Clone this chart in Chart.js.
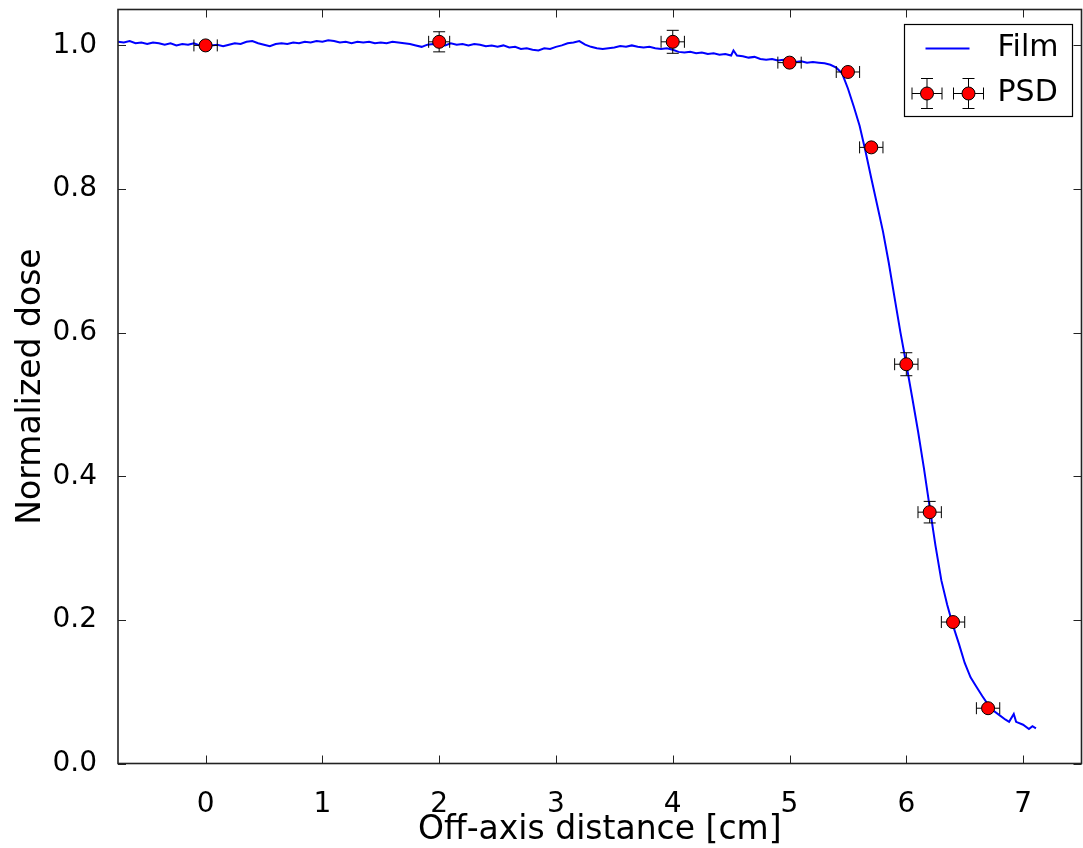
<!DOCTYPE html>
<html>
<head>
<meta charset="utf-8">
<script src="https://cdn.jsdelivr.net/npm/chart.js@4/dist/chart.umd.min.js"></script>
<style>
html,body{margin:0;padding:0;background:#fff;overflow:hidden;}
#wrap{width:1083px;height:848px;position:relative;overflow:hidden;}
#c{display:block;}
</style>
</head>
<body>
<div id="wrap"><canvas id="c" width="1089" height="848"></canvas></div>
<script>
// ---- data ----
const xTicks = [0, 1, 2, 3, 4, 5, 6, 7];
const yTicks = [0.0, 0.2, 0.4, 0.6, 0.8, 1.0];

const psdX    = [0, 2, 4, 5, 5.5, 5.7, 6.0, 6.2, 6.4, 6.7];
const psdY    = [1.000, 1.005, 1.005, 0.976, 0.963, 0.858, 0.556, 0.350, 0.197, 0.077];
const psdXErr = [0.1, 0.09, 0.1, 0.1, 0.1, 0.1, 0.1, 0.1, 0.1, 0.1];
const psdYErr = [0.003, 0.014, 0.016, 0.003, 0.003, 0.003, 0.016, 0.015, 0.003, 0.003];

const filmX = [
 -0.75,-0.70,-0.65,-0.60,-0.55,-0.50,-0.45,-0.40,-0.35,-0.30,-0.25,-0.20,-0.15,-0.10,-0.05,
 0.00,0.05,0.10,0.15,0.20,0.25,0.30,0.35,0.40,0.45,0.50,0.55,0.60,0.65,0.70,0.75,0.80,0.85,0.90,0.95,
 1.00,1.05,1.10,1.15,1.20,1.25,1.30,1.35,1.40,1.45,1.50,1.55,1.60,1.65,1.70,1.75,1.80,1.85,1.90,1.95,
 2.00,2.05,2.10,2.15,2.20,2.25,2.30,2.35,2.40,2.45,2.50,2.55,2.60,2.65,2.70,2.75,2.80,2.85,2.90,2.95,
 3.00,3.05,3.10,3.15,3.20,3.25,3.30,3.35,3.40,3.45,3.50,3.55,3.60,3.65,3.70,3.75,3.80,3.85,3.90,3.95,
 4.00,4.05,4.10,4.15,4.20,4.25,4.30,4.35,4.40,4.45,4.50,4.52,4.55,4.60,4.65,4.70,4.75,4.80,4.85,4.90,4.95,
 5.00,5.05,5.10,5.15,5.20,5.25,5.30,5.35,5.40,5.45,5.50,5.55,5.60,5.65,5.70,5.75,5.80,5.85,5.90,5.95,
 6.00,6.05,6.10,6.15,6.20,6.25,6.30,6.35,6.40,6.45,6.50,6.55,6.60,6.65,6.70,6.75,6.80,6.85,6.88,6.92,6.94,
 7.00,7.05,7.08,7.11
];
const filmY = [
 1.005,1.004,1.006,1.003,1.004,1.002,1.004,1.003,1.001,1.003,1.000,1.002,1.001,1.003,1.000,
 1.002,1.000,1.001,0.999,1.001,1.003,1.002,1.005,1.006,1.003,1.001,0.999,1.002,1.003,1.002,1.004,1.003,1.005,1.004,1.006,
 1.005,1.007,1.006,1.004,1.005,1.003,1.005,1.004,1.005,1.003,1.004,1.003,1.005,1.004,1.003,1.002,1.000,0.998,1.001,1.002,
 1.001,1.000,1.003,1.001,1.002,1.000,1.002,1.001,0.999,1.000,0.998,1.000,0.997,0.998,0.995,0.996,0.994,0.993,0.996,0.995,
 0.998,1.000,1.003,1.004,1.006,1.001,0.998,0.996,0.995,0.996,0.997,0.999,0.998,1.000,0.998,0.997,0.998,0.996,0.995,0.996,
 0.994,0.991,0.990,0.991,0.989,0.990,0.988,0.989,0.987,0.988,0.986,0.993,0.986,0.985,0.983,0.984,0.981,0.980,0.981,0.979,0.980,
 0.978,0.977,0.978,0.976,0.977,0.976,0.975,0.973,0.969,0.961,0.940,0.915,0.888,0.853,0.815,0.778,0.741,0.697,0.648,0.600,
 0.556,0.510,0.463,0.412,0.357,0.303,0.255,0.221,0.192,0.167,0.140,0.120,0.107,0.094,0.082,0.073,0.067,0.061,0.058,0.069,0.058,
 0.054,0.048,0.052,0.049
];

const FONT = "'DejaVu Sans', 'Liberation Sans', sans-serif";

const filmData = filmX.map((x, i) => ({x: x, y: filmY[i]}));
const psdData = psdX.map((x, i) => ({x: x, y: psdY[i]}));

function drawErrBar(ctx, x1, y1, x2, y2, vertical, cap) {
  ctx.beginPath();
  ctx.moveTo(x1, y1); ctx.lineTo(x2, y2);
  if (vertical) {
    ctx.moveTo(x1 - cap, y1); ctx.lineTo(x1 + cap, y1);
    ctx.moveTo(x2 - cap, y2); ctx.lineTo(x2 + cap, y2);
  } else {
    ctx.moveTo(x1, y1 - cap); ctx.lineTo(x1, y1 + cap);
    ctx.moveTo(x2, y2 - cap); ctx.lineTo(x2, y2 + cap);
  }
  ctx.stroke();
}

const errPlugin = {
  id: 'errbars',
  beforeDatasetDraw(chart, args) {
    if (args.index !== 0) return;
    const ctx = chart.ctx, xs = chart.scales.x, ys = chart.scales.y;
    ctx.save();
    ctx.strokeStyle = '#000';
    ctx.lineWidth = 1;
    for (let i = 0; i < psdX.length; i++) {
      const px = xs.getPixelForValue(psdX[i]);
      const py = ys.getPixelForValue(psdY[i]);
      const xl = xs.getPixelForValue(psdX[i] - psdXErr[i]);
      const xr = xs.getPixelForValue(psdX[i] + psdXErr[i]);
      const yt = ys.getPixelForValue(psdY[i] + psdYErr[i]);
      const yb = ys.getPixelForValue(psdY[i] - psdYErr[i]);
      drawErrBar(ctx, xl, py, xr, py, false, 6);
      drawErrBar(ctx, px, yt, px, yb, true, 6);
    }
    ctx.restore();
  }
};

const framePlugin = {
  id: 'frame',
  afterDraw(chart) {
    const ctx = chart.ctx, a = chart.chartArea, xs = chart.scales.x, ys = chart.scales.y;
    ctx.save();
    ctx.strokeStyle = '#222';
    ctx.lineWidth = 1;
    const tl = 8;
    ctx.beginPath();
    xTicks.forEach(v => {
      const p = Math.round(xs.getPixelForValue(v)) + 0.5;
      ctx.moveTo(p, a.bottom); ctx.lineTo(p, a.bottom - tl);
      ctx.moveTo(p, a.top); ctx.lineTo(p, a.top + tl);
    });
    yTicks.forEach(v => {
      const p = Math.round(ys.getPixelForValue(v)) + 0.5;
      ctx.moveTo(a.left, p); ctx.lineTo(a.left + tl, p);
      ctx.moveTo(a.right, p); ctx.lineTo(a.right - tl, p);
    });
    ctx.stroke();
    ctx.lineWidth = 1.6;
    ctx.strokeRect(a.left, a.top, a.right - a.left, a.bottom - a.top);

    // legend
    const bx = a.right - 177, by = a.top + 15, bw = 168, bh = 92;
    ctx.fillStyle = '#fff';
    ctx.fillRect(bx, by, bw, bh);
    ctx.strokeStyle = '#000';
    ctx.lineWidth = 1.2;
    ctx.strokeRect(bx, by, bw, bh);
    // Film entry
    ctx.strokeStyle = '#0000ff';
    ctx.lineWidth = 2;
    ctx.beginPath();
    ctx.moveTo(bx + 21, by + 24); ctx.lineTo(bx + 65, by + 24);
    ctx.stroke();
    // PSD entry
    [bx + 22.5, bx + 64].forEach(cx => {
      const cy = by + 69;
      ctx.strokeStyle = '#000';
      ctx.lineWidth = 1;
      drawErrBar(ctx, cx - 15, cy, cx + 15, cy, false, 6);
      drawErrBar(ctx, cx, cy - 15, cx, cy + 15, true, 6);
      ctx.beginPath();
      ctx.arc(cx, cy, 6.5, 0, Math.PI * 2);
      ctx.fillStyle = '#ff0000';
      ctx.fill();
      ctx.strokeStyle = '#000';
      ctx.lineWidth = 1;
      ctx.stroke();
    });
    ctx.fillStyle = '#000';
    ctx.font = "30px " + FONT;
    ctx.textAlign = 'left';
    ctx.textBaseline = 'middle';
    ctx.fillText('Film', bx + 93, by + 24);
    ctx.fillText('PSD', bx + 93, by + 69);
    ctx.restore();
  }
};

function zeroPad(s) {
  s.paddingTop = 0; s.paddingBottom = 0; s.paddingLeft = 0; s.paddingRight = 0;
}

new Chart(document.getElementById('c'), {
  type: 'scatter',
  data: {
    datasets: [
      {
        label: 'PSD',
        data: psdData,
        showLine: false,
        pointRadius: 6.5,
        pointBackgroundColor: '#ff0000',
        pointBorderColor: '#000',
        pointBorderWidth: 1
      },
      {
        label: 'Film',
        data: filmData,
        showLine: true,
        borderColor: '#0000ff',
        borderWidth: 2,
        pointRadius: 0,
        tension: 0,
        fill: false
      }
    ]
  },
  plugins: [errPlugin, framePlugin],
  options: {
    responsive: false,
    animation: false,
    events: [],
    layout: { padding: { top: 9.5, right: 0, left: 0, bottom: 0 } },
    plugins: { legend: { display: false }, tooltip: { enabled: false } },
    scales: {
      x: {
        type: 'linear',
        min: -0.75, max: 7.5,
        grid: { display: false, drawTicks: false },
        border: { display: false },
        afterBuildTicks: s => { s.ticks = xTicks.map(v => ({value: v})); },
        afterFit: s => { s.height = 84.5; zeroPad(s); },
        ticks: {
          padding: 24,
          color: '#000',
          font: { family: FONT, size: 28 },
          callback: v => String(v)
        },
        title: {
          display: true,
          text: 'Off-axis distance [cm]',
          color: '#000',
          font: { family: FONT, size: 33, lineHeight: 0.94 },
          padding: { top: 2, bottom: 2 }
        }
      },
      y: {
        type: 'linear',
        min: 0, max: 1.05,
        grid: { display: false, drawTicks: false },
        border: { display: false },
        afterBuildTicks: s => { s.ticks = yTicks.map(v => ({value: v})); },
        afterFit: s => { s.width = 118; zeroPad(s); },
        ticks: {
          padding: 21,
          color: '#000',
          font: { family: FONT, size: 28 },
          callback: v => Number(v).toFixed(1)
        },
        title: {
          display: true,
          text: 'Normalized dose',
          color: '#000',
          font: { family: FONT, size: 33, lineHeight: 1.2 },
          padding: { top: 12, bottom: 0 }
        }
      }
    }
  }
});
</script>
</body>
</html>
